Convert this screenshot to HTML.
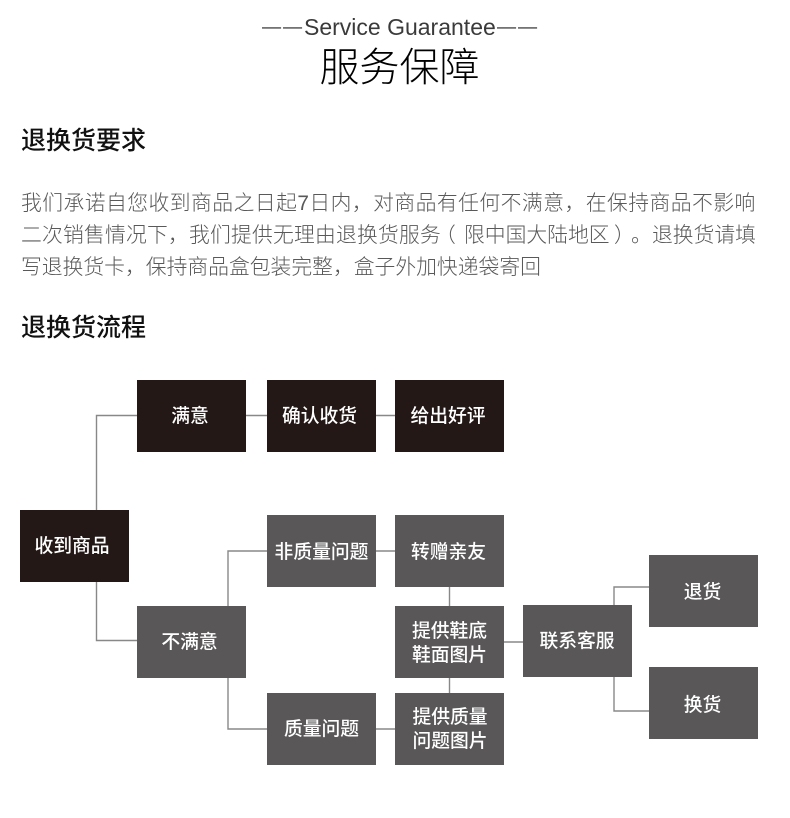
<!DOCTYPE html>
<html lang="zh">
<head>
<meta charset="utf-8">
<style>
html,body{margin:0;padding:0;background:#fff}
body{width:790px;height:818px;position:relative;overflow:hidden;font-family:"Liberation Sans","Noto Sans CJK SC",sans-serif;color:#000}
.t{position:absolute;white-space:nowrap}
.en{left:304px;top:14px;font-size:23px;line-height:26px;color:#3a3a3a}
.dash{top:16.5px;font-size:21px;line-height:26px;color:#222;font-weight:300}
.cn{left:0;width:799px;top:39px;text-align:center;font-size:40px;line-height:58px;font-weight:300;color:#000}
.h{left:21px;font-size:25px;line-height:36px;font-weight:500;color:#111}
.p{font-size:20.8px;line-height:31px;color:#595959;font-weight:300}
.b{position:absolute;width:109px;height:72px;display:flex;align-items:center;justify-content:center;text-align:center;color:#fff;font-size:18.8px;line-height:24px;background:#595757;white-space:nowrap;font-weight:500}
.b span{position:relative}
.d{background:#231815}
svg{position:absolute;left:0;top:0}
</style>
</head>
<body>
<div class="t dash" style="left:261px">一一</div>
<div class="t en">Service Guarantee</div>
<div class="t dash" style="left:496px">一一</div>
<div class="t cn">服务保障</div>
<div class="t h" style="top:123px">退换货要求</div>
<div class="t p" style="left:21px;top:188px;letter-spacing:.46px">我们承诺自您收到商品之日起7日内，对商品有任何不满意，在保持商品不影响</div>
<div class="t p" style="left:21px;top:220px;letter-spacing:.2px">二次销售情况下，我们提供无理由退换货服务</div>
<div class="t p" style="left:435px;top:220px">（</div>
<div class="t p" style="left:464px;top:220px">限中国大陆地区</div>
<div class="t p" style="left:614px;top:220px">）</div>
<div class="t p" style="left:631px;top:220px">。</div>
<div class="t p" style="left:652px;top:220px">退换货请填</div>
<div class="t p" style="left:21px;top:252px">写退换货卡，保持商品盒包装完整，盒子外加快递袋寄回</div>
<div class="t h" style="top:310px">退换货流程</div>

<svg width="790" height="818" fill="none" stroke="#888" stroke-width="1.4">
<path d="M96.5 510V415.5H137"/>
<path d="M96.5 582V640.5H137"/>
<path d="M246 415.5H267"/>
<path d="M376 415.5H395"/>
<path d="M228 606V551H267"/>
<path d="M228 678V729H267"/>
<path d="M376 551H395"/>
<path d="M376 729H395"/>
<path d="M449.5 587V606"/>
<path d="M449.5 678V693"/>
<path d="M504 642H523"/>
<path d="M614 605V587H649"/>
<path d="M614 677V711H649"/>
</svg>

<div class="b d" style="left:20px;top:510px"><span style="left:-2.5px">收到商品</span></div>
<div class="b d" style="left:137px;top:380px"><span style="left:-1.5px">满意</span></div>
<div class="b d" style="left:267px;top:380px"><span style="left:-2px">确认收货</span></div>
<div class="b d" style="left:395px;top:380px"><span style="left:-1.5px">给出好评</span></div>
<div class="b" style="left:137px;top:606px"><span style="left:-2px">不满意</span></div>
<div class="b" style="left:267px;top:515px"><span style="top:1px">非质量问题</span></div>
<div class="b" style="left:395px;top:515px"><span style="left:-1px;top:1px">转赠亲友</span></div>
<div class="b" style="left:395px;top:606px"><span style="top:1px">提供鞋底<br>鞋面图片</span></div>
<div class="b" style="left:267px;top:693px"><span>质量问题</span></div>
<div class="b" style="left:395px;top:693px"><span style="left:.5px">提供质量<br>问题图片</span></div>
<div class="b" style="left:523px;top:605px"><span style="left:-.5px">联系客服</span></div>
<div class="b" style="left:649px;top:555px"><span style="left:-1px;top:.5px">退货</span></div>
<div class="b" style="left:649px;top:667px"><span style="left:-1px;top:2px">换货</span></div>
</body>
</html>
